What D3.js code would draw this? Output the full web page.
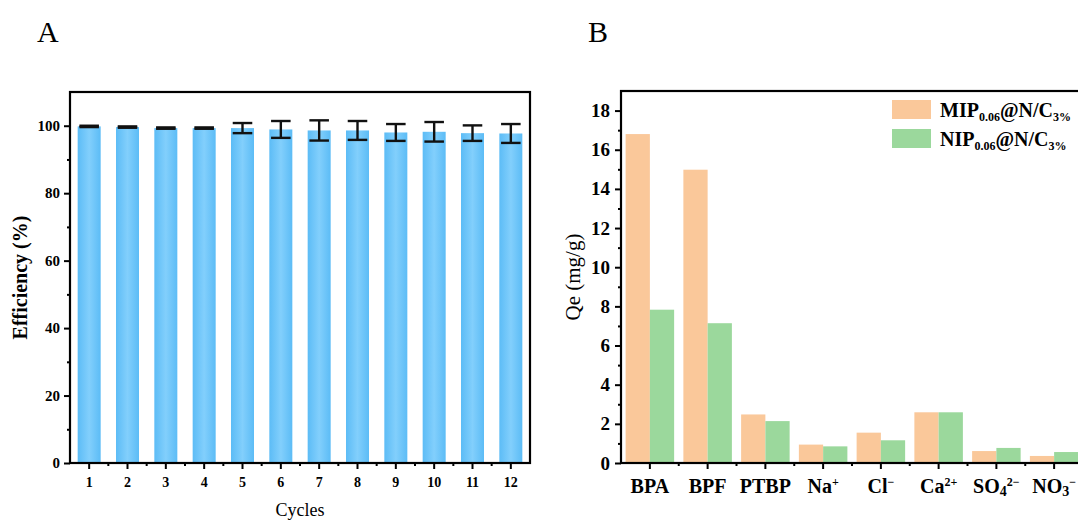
<!DOCTYPE html>
<html>
<head>
<meta charset="utf-8">
<script src="https://cdn.jsdelivr.net/npm/d3@7"></script>
<style>
  body { margin: 0; background: #fff; }
  svg { display: block; font-family: "Liberation Serif", "Times New Roman", serif; }
</style>
</head>
<body>
<svg width="1078" height="520"></svg>
<script>
// panel A data
var cycles = ['1','2','3','4','5','6','7','8','9','10','11','12'];
var efficiency = [99.8, 99.6, 99.3, 99.3, 99.3, 98.9, 98.6, 98.6, 98.0, 98.2, 97.8, 97.7];
var efficiencyErr = [0.2, 0.2, 0.2, 0.2, 1.5, 2.5, 3.0, 2.8, 2.5, 2.9, 2.3, 2.8];
var effTicks = [0, 20, 40, 60, 80, 100];

// panel B data
var ions = ['BPA', 'BPF', 'PTBP', 'Na+', 'Cl-', 'Ca2+', 'SO42-', 'NO3-'];
var ionLabels = [
  [['BPA', '']], [['BPF', '']], [['PTBP', '']],
  [['Na', ''], ['+', 'sup']],
  [['Cl', ''], ['\u2212', 'sup']],
  [['Ca', ''], ['2+', 'sup']],
  [['SO', ''], ['4', 'sub'], ['2\u2212', 'sup']],
  [['NO', ''], ['3', 'sub'], ['\u2212', 'sup']]
];
var mipValues = [16.8, 14.98, 2.48, 0.94, 1.55, 2.59, 0.61, 0.36];
var nipValues = [7.83, 7.14, 2.14, 0.85, 1.16, 2.59, 0.77, 0.56];
var qeTicks = [0, 2, 4, 6, 8, 10, 12, 14, 16, 18];
var seriesNames = ['MIP', 'NIP'];
var seriesColors = ['#fac89a', '#9bd89c'];

var svg = d3.select('svg');

// ---------- panel A ----------
var ax = { left: 70, right: 530, top: 92, bottom: 463 };

var xA = d3.scaleBand().domain(cycles)
  .range([ax.left, ax.right]).paddingInner(0.4).paddingOuter(0.2);
var yA = d3.scaleLinear().domain([0, 110]).range([ax.bottom, ax.top]);

var defs = svg.append('defs');
var grad = defs.append('linearGradient').attr('id', 'blueGrad')
  .attr('x1', '0%').attr('x2', '100%').attr('y1', '0%').attr('y2', '0%');
grad.append('stop').attr('offset', '0%').attr('stop-color', '#5cbcf6');
grad.append('stop').attr('offset', '50%').attr('stop-color', '#82cffc');
grad.append('stop').attr('offset', '100%').attr('stop-color', '#5cbcf6');

var gA = svg.append('g');

gA.selectAll('rect.bar')
  .data(cycles)
  .enter().append('rect')
    .attr('class', 'bar')
    .attr('x', (d) => xA(d))
    .attr('width', xA.bandwidth())
    .attr('y', (d, i) => yA(efficiency[i]))
    .attr('height', (d, i) => yA(0) - yA(efficiency[i]))
    .attr('fill', 'url(#blueGrad)')

// error bars
var capW = xA.bandwidth() * 0.85;
var errG = gA.append('g').attr('stroke', '#111').attr('stroke-width', 2.4);
cycles.forEach(function(c, i) {
  var cx = xA(c) + xA.bandwidth() / 2;
  var hi = yA(efficiency[i] + efficiencyErr[i]);
  var lo = yA(efficiency[i] - efficiencyErr[i]);
  errG.append('line').attr('x1', cx).attr('x2', cx).attr('y1', hi).attr('y2', lo);
  errG.append('line').attr('x1', cx - capW / 2).attr('x2', cx + capW / 2).attr('y1', hi).attr('y2', hi);
  errG.append('line').attr('x1', cx - capW / 2).attr('x2', cx + capW / 2).attr('y1', lo).attr('y2', lo);
})

// frame
gA.append('rect')
  .attr('x', ax.left).attr('y', ax.top)
  .attr('width', ax.right - ax.left).attr('height', ax.bottom - ax.top)
  .attr('fill', 'none').attr('stroke', '#000').attr('stroke-width', 2.2)

// y axis A
var yAxisA = gA.append('g').attr('transform', 'translate(' + ax.left + ',0)')
  .call(d3.axisLeft(yA).tickValues(effTicks).tickSize(6).tickPadding(4));
yAxisA.selectAll('.tick text').attr('font-size', 15).attr('font-weight', 'bold')
  .attr('font-family', '"Liberation Serif", serif');
gA.append('g').attr('transform', 'translate(' + ax.left + ',0)')
  .call(d3.axisLeft(yA).tickValues(d3.range(10, 110, 20)).tickSize(3).tickFormat(''));

// x axis A
var xAxisA = gA.append('g').attr('transform', 'translate(0,' + ax.bottom + ')')
  .call(d3.axisBottom(xA).tickSize(6).tickPadding(8));
xAxisA.selectAll('.tick text').attr('font-size', 14).attr('font-weight', 'bold')
  .attr('font-family', '"Liberation Serif", serif');
// minor ticks between cycles
var minorA = cycles.slice(1).map((c) => xA(c) - xA.step() * xA.paddingInner() / 2);
gA.append('g').selectAll('line').data(minorA).enter().append('line')
  .attr('x1', (d) => d).attr('x2', (d) => d)
  .attr('y1', ax.bottom).attr('y2', ax.bottom + 3)
  .attr('stroke', '#000').attr('stroke-width', 2);

gA.selectAll('.domain').remove();
gA.selectAll('.tick line').attr('stroke-width', 2);

gA.append('text')
  .attr('transform', 'translate(27,' + ((ax.top + ax.bottom) / 2) + ') rotate(-90)')
  .attr('text-anchor', 'middle').attr('font-size', 20).attr('font-weight', 'bold')
  .text('Efficiency (%)')

gA.append('text')
  .attr('x', (ax.left + ax.right) / 2).attr('y', 516)
  .attr('text-anchor', 'middle').attr('font-size', 18)
  .text('Cycles')

svg.append('text').attr('x', 37).attr('y', 42).attr('font-size', 30).text('A');

// ---------- panel B ----------
var bx = { left: 621, right: 1083, top: 91, bottom: 463 };

var xB = d3.scaleBand().domain(ions).range([bx.left, bx.right]).paddingInner(0.16).paddingOuter(0.08);
var xSub = d3.scaleBand().domain(seriesNames).range([0, xB.bandwidth()]);
var yB = d3.scaleLinear().domain([0, 19]).range([bx.bottom, bx.top]);

var gB = svg.append('g');

var seriesValues = [mipValues, nipValues];
seriesNames.forEach(function(s, si) {
  gB.append('g').selectAll('rect')
    .data(ions)
    .enter().append('rect')
      .attr('x', (d) => xB(d) + xSub(s))
      .attr('width', xSub.bandwidth())
      .attr('y', (d, i) => yB(seriesValues[si][i]))
      .attr('height', (d, i) => yB(0) - yB(seriesValues[si][i]))
      .attr('fill', seriesColors[si])
})

// frame lines (right side is off canvas)
gB.append('rect')
  .attr('x', bx.left).attr('y', bx.top)
  .attr('width', bx.right - bx.left).attr('height', bx.bottom - bx.top)
  .attr('fill', 'none').attr('stroke', '#000').attr('stroke-width', 2.2)

var yAxisB = gB.append('g').attr('transform', 'translate(' + bx.left + ',0)')
  .call(d3.axisLeft(yB).tickValues(qeTicks).tickSize(6).tickPadding(5));
yAxisB.selectAll('.tick text').attr('font-size', 19).attr('font-weight', 'bold')
  .attr('font-family', '"Liberation Serif", serif');
gB.append('g').attr('transform', 'translate(' + bx.left + ',0)')
  .call(d3.axisLeft(yB).tickValues(d3.range(1, 19, 2)).tickSize(3).tickFormat(''));

var xAxisB = gB.append('g').attr('transform', 'translate(0,' + bx.bottom + ')')
  .call(d3.axisBottom(xB).tickSize(6).tickFormat(''));
var minorB = ions.slice(1).map((c) => xB(c) - xB.step() * xB.paddingInner() / 2);
gB.append('g').selectAll('line').data(minorB).enter().append('line')
  .attr('x1', (d) => d).attr('x2', (d) => d)
  .attr('y1', bx.bottom).attr('y2', bx.bottom + 3)
  .attr('stroke', '#000').attr('stroke-width', 2);
gB.selectAll('.domain').remove();
gB.selectAll('.tick line').attr('stroke-width', 2);

// category labels with super/subscripts
ions.forEach(function(c, i) {
  var t = gB.append('text')
    .attr('x', xB(c) + xB.bandwidth() / 2).attr('y', bx.bottom + 30)
    .attr('text-anchor', 'middle').attr('font-size', 20).attr('font-weight', 'bold');
  var shift = 0;
  ionLabels[i].forEach(function(p) {
    var sp = t.append('tspan').text(p[0]);
    var target = 0;
    if (p[1] === 'sup') { sp.attr('font-size', 12); target = -7; }
    if (p[1] === 'sub') { sp.attr('font-size', 14); target = 3; }
    sp.attr('dy', target - shift);
    shift = target;
  })
})

gB.append('text')
  .attr('transform', 'translate(580,' + ((bx.top + bx.bottom) / 2) + ') rotate(-90)')
  .attr('text-anchor', 'middle').attr('font-size', 21)
  .text('Qe (mg/g)')

// legend
var legend = gB.append('g');
seriesNames.forEach(function(n, i) {
  var ly = 100 + i * 29;
  legend.append('rect').attr('x', 892).attr('y', ly)
    .attr('width', 39).attr('height', 19).attr('fill', seriesColors[i]);
  var t = legend.append('text').attr('x', 940).attr('y', ly + 17)
    .attr('font-size', 20).attr('font-weight', 'bold');
  t.append('tspan').text(n);
  t.append('tspan').attr('font-size', 12).attr('dy', 4).text('0.06');
  t.append('tspan').attr('dy', -4).text('@N/C');
  t.append('tspan').attr('font-size', 12).attr('dy', 4).text('3%');
})

svg.append('text').attr('x', 588).attr('y', 42).attr('font-size', 30).text('B');
</script>
</body>
</html>
